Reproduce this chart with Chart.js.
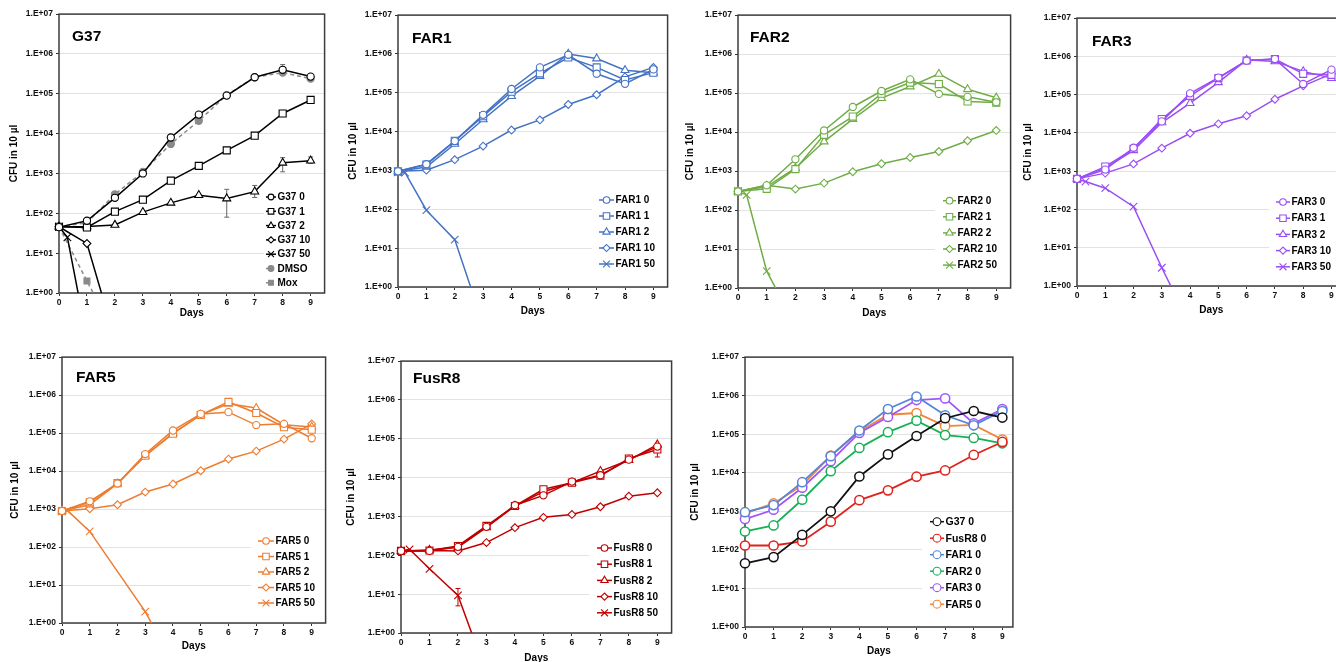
<!DOCTYPE html>
<html><head><meta charset="utf-8">
<script src="https://cdn.jsdelivr.net/npm/chart.js@4.4.1/dist/chart.umd.min.js"></script>
<style>
html,body{margin:0;padding:0;background:#fff;}
body{width:1336px;height:662px;overflow:hidden;position:relative;}
canvas{position:absolute;}
</style></head><body>
<script>
// ---------------- data ----------------
const days = [0,1,2,3,4,5,6,7,8,9];
const yTickValues = [1,10,100,1000,10000,100000,1000000,10000000];
const xTickValues = [0,1,2,3,4,5,6,7,8,9];

// G37
const g37_0 = [45, 65, 245, 1000, 8000, 30000, 90000, 260000, 400000, 270000];
const g37_1 = [46, 44, 110, 220, 660, 1550, 3800, 8900, 32000, 70000];
const g37_2 = [46, 47, 51, 107, 183, 285, 235, 350, 1850, 2100];
const g37_10_days = [0, 1, 2];
const g37_10 = [46, 17.5, 0.07];
const g37_50_days = [0, 0.3, 1];
const g37_50 = [46, 25, 0.07];
const dmso = [46, 58, 300, 1100, 5500, 21000, 93000, 260000, 340000, 240000];
const mox_days = [0, 1, 2];
const mox = [46, 2, 0.09];
const g37_0_errLo = [null,null,210,null,null,null,null,null,300000,null];
const g37_0_errHi = [null,null,300,null,null,null,null,null,540000,null];
const g37_2_errLo = [null,null,null,null,null,null,80,250,1100,1800];
const g37_2_errHi = [null,null,null,null,null,null,400,500,2500,2600];

// FAR1
const far1_0 = [950, 1450, 5700, 27000, 125000, 450000, 950000, 310000, 170000, 400000];
const far1_1 = [950, 1420, 5800, 25000, 107000, 316000, 810000, 450000, 213000, 330000];
const far1_2 = [950, 1230, 4800, 20500, 82000, 270000, 1000000, 760000, 380000, 330000];
const far1_10 = [950, 1020, 1900, 4250, 11000, 20000, 50000, 89000, 257000, 450000];
const far1_50_days = [0, 0.25, 1, 2, 3];
const far1_50 = [900, 880, 95, 16.6, 0.11];

// FAR2
const far2_0 = [300, 430, 2000, 11000, 44000, 113000, 225000, 95000, 80000, 58000];
const far2_1 = [300, 350, 1120, 8500, 25000, 96000, 186000, 170000, 61000, 57000];
const far2_2 = [300, 400, 1180, 5700, 21500, 74000, 147000, 310000, 125000, 76000];
const far2_10 = [300, 435, 345, 490, 960, 1540, 2220, 3170, 6000, 11000];
const far2_50_days = [0, 0.3, 1, 2];
const far2_50 = [300, 245, 2.7, 0.11];

// FAR3
const far3_0 = [630, 1100, 4100, 20000, 108000, 280000, 770000, 850000, 190000, 450000];
const far3_1 = [630, 1320, 3830, 23000, 93000, 270000, 780000, 850000, 350000, 330000];
const far3_2 = [630, 1200, 3470, 18700, 60000, 210000, 810000, 740000, 405000, 270000];
const far3_10 = [630, 890, 1550, 4000, 9800, 17300, 28000, 76000, 170000, 350000];
const far3_50_days = [0, 0.3, 1, 2, 3, 4];
const far3_50 = [620, 535, 360, 118, 3.0, 0.095];

// FAR5
const far5_0 = [890, 1600, 4700, 28000, 117000, 320000, 355000, 162000, 175000, 73000];
const far5_1 = [890, 1500, 4800, 25300, 96000, 302000, 660000, 337000, 142000, 123000];
const far5_2 = [890, 1300, 4650, 25300, 100000, 302000, 590000, 455000, 166000, 145000];
const far5_10 = [890, 1020, 1300, 2800, 4550, 10200, 20700, 33500, 69500, 174000];
const far5_50_days = [0, 0.2, 1, 3, 4];
const far5_50 = [870, 910, 258, 2.0, 0.09];

// FusR8
const fus_0 = [130, 130, 165, 540, 1950, 3500, 7900, 11500, 29000, 63000];
const fus_1 = [130, 133, 174, 570, 1860, 5000, 7400, 11200, 31000, 53000];
const fus_2 = [130, 137, 161, 525, 1860, 4350, 7400, 14700, 28000, 71000];
const fus_10 = [130, 133, 130, 213, 515, 950, 1130, 1780, 3330, 4070];
const fus_50_days = [0, 0.3, 1, 2, 3];
const fus_50 = [130, 143, 45, 9.3, 0.09];
const fus_50_errLo = [null, null, null, 5, null];
const fus_50_errHi = [null, null, null, 14, null];
const fus_1_errLo = [null,null,null,null,null,null,null,null,null,34000];
const fus_1_errHi = [null,null,null,null,null,null,null,null,null,60000];

// ---------------- styling ----------------
const FONT = '"Liberation Sans", Arial, Helvetica, sans-serif';
const R = {circle:3.6, rect:5, triangle:4.6, rectRot:3.9, crossRot:5.3};
const C = {g37:'#000000', gray:'#8a8a8a', far1:'#4472C4', far2:'#70AD47', far3:'#9B4DF5', far5:'#ED7D31', fus:'#C00000'};
const C7 = {g37:'#111111', fus:'#E0201B', far1:'#5585D5', far2:'#16B157', far3:'#A055FA', far5:'#F2843A'};

function pts(xs, ys){ return xs.map((x,i)=>({x:x, y:ys[i]})); }
function ser(label, xs, ys, color, style, o){
  o = o || {};
  const r = o.r || R[style];
  return {
    label: label, data: pts(xs, ys), borderColor: color, backgroundColor: color,
    borderWidth: o.lw || 1.5, borderDash: o.dash || [],
    pointStyle: style, pointRadius: r, pointHoverRadius: r,
    pointBackgroundColor: o.fill || '#ffffff', pointBorderColor: color,
    pointBorderWidth: o.pbw || 1.1, tension: 0, fill: false,
    clip: {left: 10, right: 10, top: 0, bottom: 0},
    errLo: o.errLo, errHi: o.errHi, errColor: o.errColor || color
  };
}

const panels = [
  {plot:{l:59,t:14,r:325,b:293}, xmax:9.5, title:{text:'G37',x:72,y:41}, ylabX:14, xlabY:313,
   legend:{tx:277,y0:197,dy:14.3,sw:10,pad:2,font:10,ms:0.8},
   series:[
     ser('G37 0', days, g37_0, C.g37, 'circle', {errLo:g37_0_errLo, errHi:g37_0_errHi, errColor:'#666'}),
     ser('G37 1', days, g37_1, C.g37, 'rect'),
     ser('G37 2', days, g37_2, C.g37, 'triangle', {errLo:g37_2_errLo, errHi:g37_2_errHi, errColor:'#666'}),
     ser('G37 10', g37_10_days, g37_10, C.g37, 'rectRot'),
     ser('G37 50', g37_50_days, g37_50, C.g37, 'crossRot'),
     ser('DMSO', days, dmso, C.gray, 'circle', {fill:C.gray, dash:[4,3]}),
     ser('Mox', mox_days, mox, C.gray, 'rect', {fill:C.gray, dash:[4,3], r:4.2})
   ]},
  {plot:{l:398,t:15,r:668,b:287}, xmax:9.5, title:{text:'FAR1',x:412,y:43}, ylabX:353, xlabY:311.7,
   legend:{tx:615,y0:200,dy:16,sw:15,pad:7,font:10,ms:0.92},
   series:[
     ser('FAR1 0', days, far1_0, C.far1, 'circle'),
     ser('FAR1 1', days, far1_1, C.far1, 'rect'),
     ser('FAR1 2', days, far1_2, C.far1, 'triangle'),
     ser('FAR1 10', days, far1_10, C.far1, 'rectRot'),
     ser('FAR1 50', far1_50_days, far1_50, C.far1, 'crossRot')
   ]},
  {plot:{l:738,t:15,r:1011,b:288}, xmax:9.5, title:{text:'FAR2',x:750,y:42}, ylabX:690.7, xlabY:313,
   legend:{tx:957,y0:200.7,dy:16.1,sw:13,pad:8,font:10,ms:0.92},
   series:[
     ser('FAR2 0', days, far2_0, C.far2, 'circle'),
     ser('FAR2 1', days, far2_1, C.far2, 'rect'),
     ser('FAR2 2', days, far2_2, C.far2, 'triangle'),
     ser('FAR2 10', days, far2_10, C.far2, 'rectRot'),
     ser('FAR2 50', far2_50_days, far2_50, C.far2, 'crossRot')
   ]},
  {plot:{l:1077,t:18,r:1346,b:286}, xmax:9.5, title:{text:'FAR3',x:1092,y:45.7}, ylabX:1028, xlabY:310,
   legend:{tx:1291,y0:202,dy:16.2,sw:14,pad:7,font:10,ms:0.92},
   series:[
     ser('FAR3 0', days, far3_0, C.far3, 'circle'),
     ser('FAR3 1', days, far3_1, C.far3, 'rect'),
     ser('FAR3 2', days, far3_2, C.far3, 'triangle'),
     ser('FAR3 10', days, far3_10, C.far3, 'rectRot'),
     ser('FAR3 50', far3_50_days, far3_50, C.far3, 'crossRot')
   ]},
  {plot:{l:62,t:357,r:326,b:623}, xmax:9.5, title:{text:'FAR5',x:76,y:381.7}, ylabX:15, xlabY:646.7,
   legend:{tx:275,y0:541,dy:15.5,sw:16,pad:7,font:10,ms:0.92},
   series:[
     ser('FAR5 0', days, far5_0, C.far5, 'circle'),
     ser('FAR5 1', days, far5_1, C.far5, 'rect'),
     ser('FAR5 2', days, far5_2, C.far5, 'triangle'),
     ser('FAR5 10', days, far5_10, C.far5, 'rectRot'),
     ser('FAR5 50', far5_50_days, far5_50, C.far5, 'crossRot')
   ]},
  {plot:{l:401,t:361,r:672,b:633}, xmax:9.5, title:{text:'FusR8',x:413,y:383.3}, ylabX:351.7, xlabY:658,
   legend:{tx:613,y0:548,dy:16.2,sw:15,pad:8,font:10,ms:0.92},
   series:[
     ser('FusR8 0', days, fus_0, C.fus, 'circle'),
     ser('FusR8 1', days, fus_1, C.fus, 'rect', {errLo:fus_1_errLo, errHi:fus_1_errHi}),
     ser('FusR8 2', days, fus_2, C.fus, 'triangle'),
     ser('FusR8 10', days, fus_10, C.fus, 'rectRot'),
     ser('FusR8 50', fus_50_days, fus_50, C.fus, 'crossRot', {errLo:fus_50_errLo, errHi:fus_50_errHi})
   ]},
  {plot:{l:745,t:357,r:1013,b:627}, xmax:9.37, title:null, ylabX:695, xlabY:651.7,
   legend:{tx:945,y0:521.7,dy:16.5,sw:14,pad:8,font:10.5,ms:0.85},
   series:[
     ser('G37 0', days, g37_0, C7.g37, 'circle', {r:4.6, pbw:1.5, lw:1.8}),
     ser('FusR8 0', days, fus_0, C7.fus, 'circle', {r:4.6, pbw:1.5, lw:1.8}),
     ser('FAR1 0', days, far1_0, C7.far1, 'circle', {r:4.6, pbw:1.5, lw:1.8}),
     ser('FAR2 0', days, far2_0, C7.far2, 'circle', {r:4.6, pbw:1.5, lw:1.8}),
     ser('FAR3 0', days, far3_0, C7.far3, 'circle', {r:4.6, pbw:1.5, lw:1.8}),
     ser('FAR5 0', days, far5_0, C7.far5, 'circle', {r:4.6, pbw:1.5, lw:1.8})
   ]}
];

// ---------------- drawing ----------------
const PADL = 62, PADT = 8, PADR = 6, PADB = 40;

function drawMarker(ctx, style, r, x, y, fill, stroke, bw){
  ctx.save();
  ctx.fillStyle = fill; ctx.strokeStyle = stroke; ctx.lineWidth = bw;
  if (Chart.helpers && Chart.helpers.drawPoint){
    Chart.helpers.drawPoint(ctx, {pointStyle: style, radius: r, rotation: 0, borderWidth: bw}, x, y);
  } else {
    ctx.beginPath(); ctx.arc(x, y, r, 0, Math.PI*2); ctx.fill(); ctx.stroke();
  }
  ctx.restore();
}

function makeDeco(P, ox, oy){
  return {
    id: 'deco',
    beforeDatasetsDraw(chart){
      const ctx = chart.ctx, a = chart.chartArea;
      const xs = chart.scales.x, ys = chart.scales.y;
      // legend background + entries
      const L = P.legend, n = P.series.length;
      const tx = L.tx - ox, y0 = L.y0 - oy;
      const sx0 = tx - L.sw - 1;
      ctx.save();
      ctx.fillStyle = '#ffffff';
      ctx.fillRect(sx0 - L.pad, y0 - 8, a.right - (sx0 - L.pad), (n - 1) * L.dy + 16);
      ctx.restore();
      P.series.forEach((d, i) => {
        const y = y0 + i * L.dy;
        ctx.save();
        ctx.strokeStyle = d.borderColor; ctx.lineWidth = Math.min(d.borderWidth, 1.5);
        ctx.setLineDash(d.borderDash.length ? [3, 2] : []);
        ctx.beginPath(); ctx.moveTo(sx0, y); ctx.lineTo(tx - 1, y); ctx.stroke();
        ctx.restore();
        drawMarker(ctx, d.pointStyle, d.pointRadius * L.ms, sx0 + (tx - 1 - sx0) / 2, y,
                   d.pointBackgroundColor, d.pointBorderColor, 1.1);
        ctx.save();
        ctx.fillStyle = '#000'; ctx.font = 'bold ' + L.font + 'px ' + FONT;
        ctx.textBaseline = 'middle'; ctx.textAlign = 'left';
        ctx.fillText(d.label, tx + 0.5, y + 0.5);
        ctx.restore();
      });
      // error bars
      chart.data.datasets.forEach(d => {
        if (!d.errLo) return;
        ctx.save();
        ctx.strokeStyle = d.errColor; ctx.lineWidth = 1;
        d.data.forEach((p, i) => {
          if (d.errLo[i] == null) return;
          const px = xs.getPixelForValue(p.x);
          const y1 = ys.getPixelForValue(d.errLo[i]), y2 = ys.getPixelForValue(d.errHi[i]);
          ctx.beginPath();
          ctx.moveTo(px, y1); ctx.lineTo(px, y2);
          ctx.moveTo(px - 2.5, y1); ctx.lineTo(px + 2.5, y1);
          ctx.moveTo(px - 2.5, y2); ctx.lineTo(px + 2.5, y2);
          ctx.stroke();
        });
        ctx.restore();
      });
      // plot border
      ctx.save();
      ctx.strokeStyle = '#3c3c3c'; ctx.lineWidth = 1.5;
      ctx.strokeRect(a.left, a.top, a.right - a.left, a.bottom - a.top);
      ctx.restore();
    },
    afterDraw(chart){
      const ctx = chart.ctx, a = chart.chartArea;
      ctx.save();
      ctx.fillStyle = '#000';
      if (P.title){
        ctx.font = 'bold 15.5px ' + FONT;
        ctx.textBaseline = 'alphabetic'; ctx.textAlign = 'left';
        ctx.fillText(P.title.text, P.title.x - ox, P.title.y - oy);
      }
      ctx.font = 'bold 10px ' + FONT;
      ctx.textAlign = 'center'; ctx.textBaseline = 'middle';
      ctx.fillText('Days', (a.left + a.right) / 2, P.xlabY - oy);
      ctx.translate(P.ylabX - ox, (a.top + a.bottom) / 2);
      ctx.rotate(-Math.PI / 2);
      ctx.fillText('CFU in 10 \u00b5l', 0, 0);
      ctx.restore();
    }
  };
}

panels.forEach(P => {
  const p = P.plot;
  const left = p.l - PADL, top = p.t - PADT;
  const w = (p.r - p.l) + PADL + PADR, h = (p.b - p.t) + PADT + PADB;
  const cv = document.createElement('canvas');
  cv.width = w; cv.height = h;
  cv.style.left = left + 'px'; cv.style.top = top + 'px';
  cv.style.width = w + 'px'; cv.style.height = h + 'px';
  document.body.appendChild(cv);
  new Chart(cv.getContext('2d'), {
    type: 'line',
    data: { datasets: P.series },
    options: {
      responsive: false, animation: false, devicePixelRatio: 1, events: [],
      layout: { padding: {left: 0, top: PADT, right: PADR, bottom: 0} },
      plugins: { legend: {display: false}, tooltip: {enabled: false}, title: {display: false} },
      scales: {
        x: {
          type: 'linear', min: 0, max: P.xmax,
          afterBuildTicks: s => { s.ticks = xTickValues.map(v => ({value: v})); },
          afterFit: s => { s.height = PADB; },
          grid: { display: true, drawOnChartArea: false, drawTicks: true, tickLength: 3, tickColor: '#333', tickWidth: 1 },
          border: { display: false },
          ticks: { autoSkip: false, maxRotation: 0, padding: 2, color: '#111',
                   font: {family: FONT, size: 8.5, weight: 'bold'}, callback: v => String(v) }
        },
        y: {
          type: 'logarithmic', min: 1, max: 1e7,
          afterBuildTicks: s => { s.ticks = yTickValues.map(v => ({value: v})); },
          afterFit: s => { s.width = PADL; },
          grid: { color: '#e2e2e2', lineWidth: 1, drawTicks: true, tickLength: 3, tickColor: '#333', tickWidth: 1 },
          border: { display: false },
          ticks: { padding: 3, color: '#111', font: {family: FONT, size: 8.5, weight: 'bold'},
                   callback: v => '1.E+' + String(Math.round(Math.log10(v))).padStart(2, '0') }
        }
      }
    },
    plugins: [makeDeco(P, left, top)]
  });
});
</script>
</body></html>
